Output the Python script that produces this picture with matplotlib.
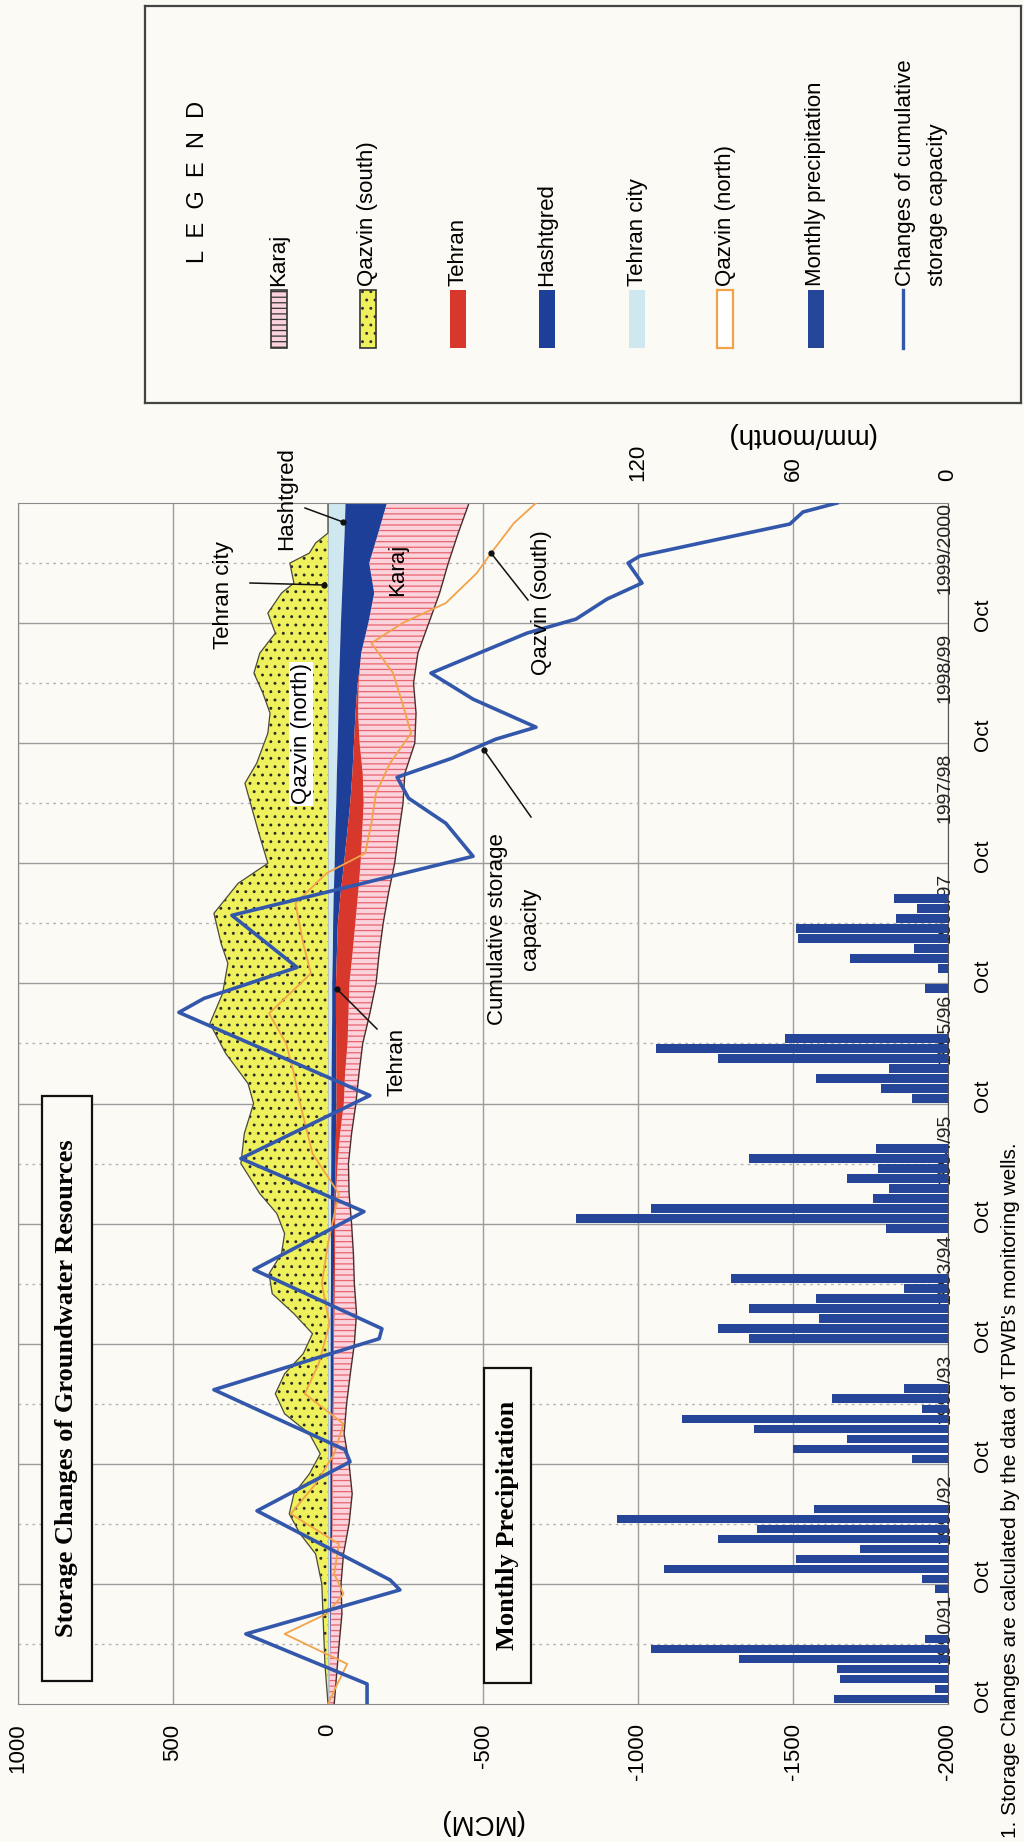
import numpy as np
import matplotlib
matplotlib.use('Agg')
import matplotlib.pyplot as plt
from matplotlib.patches import Rectangle
from matplotlib.lines import Line2D

plt.rcParams['font.family'] = ['Liberation Sans', 'DejaVu Sans']
plt.rcParams['hatch.linewidth'] = 0.9

W, H = 1024, 1842
bg = '#fbfaf5'

# time is counted in months from Oct 1990 (0) to Oct 2000 (120)
grid_m = np.arange(0, 121, 3)
tehran_city = [4, 4, 5, 5, 5, 5, 6, 6, 6, 6, 7, 7, 7, 7, 8, 8, 8, 8, 9, 9, 10,
               10, 11, 12, 12, 14, 15, 17, 20, 22, 25, 27, 30, 32, 34, 37, 40, 44, 48, 52, 55]
hashtgred = [0, 2, 3, 4, 5, 5, 6, 6, 6, 7, 7, 8, 8, 9, 9, 10, 10, 12, 14, 15, 16,
             15, 14, 12, 12, 13, 15, 22, 30, 38, 45, 50, 52, 55, 60, 70, 90, 105, 85, 110, 135]
tehran = [0, 0, 0, 0, 2, 2, 3, 3, 3, 3, 4, 4, 4, 5, 5, 5, 5, 6, 8, 15, 25,
          30, 38, 42, 45, 52, 58, 58, 55, 50, 45, 35, 20, 10, 5, 0, 0, 0, 0, 0, 0]
karaj = [16, 22, 28, 36, 30, 38, 53, 63, 53, 36, 42, 53, 66, 71, 63, 59, 53, 42, 35, 37, 39,
         45, 49, 69, 86, 86, 90, 98, 110, 118, 127, 136, 178, 187, 177, 183, 195, 211, 255, 258, 265]

qazvin_m = [0, 4, 8, 12, 15, 17, 19, 21, 23, 25, 27, 29, 31, 33, 35, 37, 39, 41, 43, 45,
            47, 49, 51, 54, 57, 60, 62, 65, 68, 71, 74, 76, 79, 82, 84, 87, 90, 92, 94, 97,
            99, 101, 103, 105, 107, 109, 111, 112, 114, 115, 116, 117, 120]
qazvin_v = [0, 10, 15, 20, 40, 90, 125, 110, 60, 25, 60, 140, 170, 140, 80, 50, 110, 180, 190, 150,
            140, 165, 220, 281, 270, 240, 258, 330, 381, 340, 323, 345, 368, 290, 194, 223, 250, 268, 230, 194,
            187, 210, 239, 220, 170, 194, 150, 110, 123, 60, 40, 0, 0]

qn_m = [0, 2, 4, 7, 9, 11, 13, 16, 19, 22, 25, 28, 31, 34, 38, 42, 46, 51, 55, 60,
        63, 66, 69, 73, 76, 80, 83, 85, 88, 91, 94, 97, 100, 103, 106, 108, 110, 113, 115, 118, 120]
qn_v = [0, -30, -62, 140, 5, -50, -20, -35, 120, 40, -20, -50, 75, 30, -5, 20, 0, -35, 50, 90,
        110, 135, 190, 55, 80, 105, 5, -120, -140, -155, -200, -268, -240, -210, -140, -240, -380, -480, -526, -600, -671]

cum_m = [0, 2, 7, 11.4, 12.4, 19.3, 24.2, 25.4, 31.4, 36.5, 37.5, 43.4, 49.2, 54.5, 60.8, 69.1, 70.5,
         73.6, 78.8, 84.7, 88, 90.5, 92.6, 94.5, 96.4, 97.6, 100.4, 103, 107, 108.4, 110.4, 112,
         114, 114.7, 116.2, 117.9, 119.1, 120]
cum_v = [-126, -126, 265, -232, -200, 229, -71, -55, 368, -165, -174, 239, -116, 281, -135, 481, 400,
         100, 310, -468, -380, -260, -223, -400, -541, -671, -468, -332, -642, -800, -900, -1013,
         -968, -1006, -1232, -1490, -1532, -1642]

# monthly precipitation (mm), Oct 1990 .. Sep 1997
precip = [44, 5, 42, 43, 81, 115, 9, 0, 0, 0, 0, 5,
          10, 110, 59, 34, 89, 74, 128, 52, 0, 0, 0, 0,
          14, 60, 39, 75, 103, 10, 45, 17, 0, 0, 0, 0,
          77, 89, 50, 77, 51, 17, 84, 0, 0, 0, 0, 24,
          144, 115, 29, 23, 39, 27, 77, 28, 0, 0, 0, 0,
          14, 26, 51, 23, 89, 113, 63, 0, 0, 0, 0, 9,
          0, 4, 38, 13, 58, 59, 20, 12, 21, 0, 0, 0]

mcm_ticks = [1000, 500, 0, -500, -1000, -1500, -2000]
mm_ticks = [0, 60, 120]
years = ['1990/91', '1991/92', '1992/93', '1993/94', '1994/95', '1995/96',
         '1996/97', '1997/98', '1998/99', '1999/2000']


def fx(x):
    return x / W


def fy(y):
    return 1 - y / H


fig = plt.figure(figsize=(W / 100, H / 100), dpi=100, facecolor=bg)
ax = fig.add_axes([fx(18), fy(1704), 930 / W, 1201 / H])
ax.set_facecolor(bg)

# stacked areas (positive to the left, negative to the right)
ax.fill_betweenx(qazvin_m, 0, qazvin_v, facecolor='#eef05c', edgecolor='#2a2a2a',
                 hatch='..', linewidth=0, zorder=2)
ax.plot(qazvin_v, qazvin_m, color='#4a4a3a', lw=0.9, zorder=2.1)

b1 = -np.array(tehran_city, float)
b2 = b1 - np.array(hashtgred)
b3 = b2 - np.array(tehran)
b4 = b3 - np.array(karaj)
ax.fill_betweenx(grid_m, 0, b1, color='#cfe8f0', lw=0, zorder=2)
ax.fill_betweenx(grid_m, b1, b2, color='#1d3f97', lw=0, zorder=2)
ax.fill_betweenx(grid_m, b2, b3, color='#d8372c', lw=0, zorder=2)
ax.fill_betweenx(grid_m, b3, b4, facecolor='#fbd3dc', edgecolor='#e8646e',
                 hatch='---', linewidth=0, zorder=2)
ax.plot(b4, grid_m, color='#4a2e2e', lw=1.0, zorder=2.2)

ax.plot(qn_v, qn_m, color='#f2a34a', lw=1.3, zorder=3)
ax.plot(cum_v, cum_m, color='#3358ab', lw=2.6, zorder=4)

ax.set_xlim(1000, -2000)
ax.set_ylim(0, 120)
ax.set_xticks(mcm_ticks)
ax.set_xticklabels([str(t) for t in mcm_ticks], rotation=90)
ax.tick_params(axis='x', length=0, pad=14, labelsize=16)
ax.set_yticks(np.arange(12, 120, 12))
ax.set_yticks(np.arange(6, 120, 12), minor=True)
ax.tick_params(axis='y', which='both', left=False, labelleft=False)
ax.grid(axis='y', which='major', color='#9c9c9c', lw=1.0)
ax.grid(axis='y', which='minor', color='#b4b4b4', lw=1.0, ls=(0, (2, 3)))
ax.grid(axis='x', which='major', color='#9c9c9c', lw=1.0)
ax.set_axisbelow(True)
for s in ['left', 'top', 'bottom']:
    ax.spines[s].set_color('#8a8a8a')
ax.spines['right'].set_color('#555555')

# precipitation bars on a secondary axis
ax2 = ax.twiny()
ax2.barh(np.arange(len(precip)) + 0.5, precip, height=0.85, color='#254598', zorder=3)
ax2.set_xlim(360, 0)
ax2.set_xticks(mm_ticks)
ax2.set_xticklabels([str(t) for t in mm_ticks], rotation=90)
ax2.tick_params(axis='x', length=0, pad=16, labelsize=16)
for s in ax2.spines.values():
    s.set_visible(False)

# time axis labels
tr = ax.get_yaxis_transform()
for k in range(10):
    ax.text(1.0376, 12 * k + 0.8, 'Oct', transform=tr, rotation=90,
            ha='center', va='center', fontsize=15, clip_on=False)
    ax.text(0.9968, 12 * k + 7.5, years[k], transform=tr, rotation=90,
            ha='center', va='center', fontsize=14, color='#222222', clip_on=False, zorder=6)

# axis titles
fig.text(fx(481), fy(1822), '(MCM)', rotation=180, ha='center', va='center', fontsize=20)
fig.text(fx(800), fy(435), '(mm/month)', rotation=180, ha='center', va='center', fontsize=20)

# boxed titles
serif = ['Liberation Serif', 'DejaVu Serif']
for (x0, x1, y0, y1, s) in [(42, 92, 1096, 1681, 'Storage Changes of Groundwater Resources'),
                            (484, 531, 1368, 1683, 'Monthly Precipitation')]:
    fig.add_artist(Rectangle((fx(x0), fy(y1)), (x1 - x0) / W, (y1 - y0) / H,
                             transform=fig.transFigure, facecolor=bg, edgecolor='#111111', lw=1.6))
    fig.text(fx((x0 + x1) / 2), fy((y0 + y1) / 2), s, rotation=90, ha='center', va='center',
             fontsize=19, fontweight='bold', family=serif)


# annotations inside the plot
def note(x, y, s, **kw):
    fig.text(fx(x), fy(y), s, rotation=90, ha='center', va='center', fontsize=16, **kw)


def leader(x1, y1, x2, y2):
    fig.add_artist(Line2D([fx(x1), fx(x2)], [fy(y1), fy(y2)], transform=fig.transFigure,
                          color='#111111', lw=1.1))
    fig.add_artist(Line2D([fx(x2)], [fy(y2)], transform=fig.transFigure, marker='o',
                          ms=3.5, color='#111111'))


note(301, 734, 'Qazvin (north)', bbox=dict(facecolor='white', edgecolor='none', pad=1))
note(223, 595, 'Tehran city')
leader(250, 583, 324, 585)
note(287, 499, 'Hashtgred')
leader(305, 508, 343, 522)
note(398, 570, 'Karaj')
note(542, 603, 'Qazvin (south)')
leader(528, 600, 491, 553)
note(498, 929, 'Cumulative storage')
note(530, 929, 'capacity')
leader(531, 817, 484, 750)
note(397, 1062, 'Tehran')
leader(377, 1029, 337, 989)

# legend box
lax = fig.add_axes([fx(145), fy(403), (1021 - 145) / W, (403 - 6) / H])
lax.set_xlim(145, 1021)
lax.set_ylim(403, 6)
lax.set_facecolor(bg)
lax.set_xticks([])
lax.set_yticks([])
for s in lax.spines.values():
    s.set_color('#444444')
    s.set_linewidth(1.6)
lax.text(198, 182, 'L  E  G  E  N  D', rotation=90, ha='center', va='center', fontsize=17)

leg_items = [
    (279, 'Karaj', dict(facecolor='#fbd3dc', edgecolor='#333333', hatch='---', lw=1.2)),
    (368, 'Qazvin (south)', dict(facecolor='#eef05c', edgecolor='#333333', hatch='..', lw=1.2)),
    (458, 'Tehran', dict(facecolor='#d8372c', edgecolor='none')),
    (547, 'Hashtgred', dict(facecolor='#1d3f97', edgecolor='none')),
    (637, 'Tehran city', dict(facecolor='#cfe8f0', edgecolor='none')),
    (725, 'Qazvin (north)', dict(facecolor='white', edgecolor='#f2a34a', lw=1.6)),
    (816, 'Monthly precipitation', dict(facecolor='#254598', edgecolor='none')),
]
for cx, label, style in leg_items:
    lax.add_patch(Rectangle((cx - 8, 290), 16, 58, **style))
    lax.text(cx, 286, label, rotation=90, rotation_mode='anchor', ha='left', va='center',
             fontsize=16)
lax.plot([903, 903], [290, 348], color='#3358ab', lw=2.4)
lax.text(905, 286, 'Changes of cumulative', rotation=90, rotation_mode='anchor',
         ha='left', va='center', fontsize=16)
lax.text(937, 286, 'storage capacity', rotation=90, rotation_mode='anchor',
         ha='left', va='center', fontsize=16)

# footnote along the right edge
fig.text(fx(1011), fy(1838), "1. Storage Changes are calculated by the data of TPWB's monitoring wells.",
         rotation=90, rotation_mode='anchor', ha='left', va='center', fontsize=15)

fig.savefig('out.png', dpi=100, facecolor=bg)
